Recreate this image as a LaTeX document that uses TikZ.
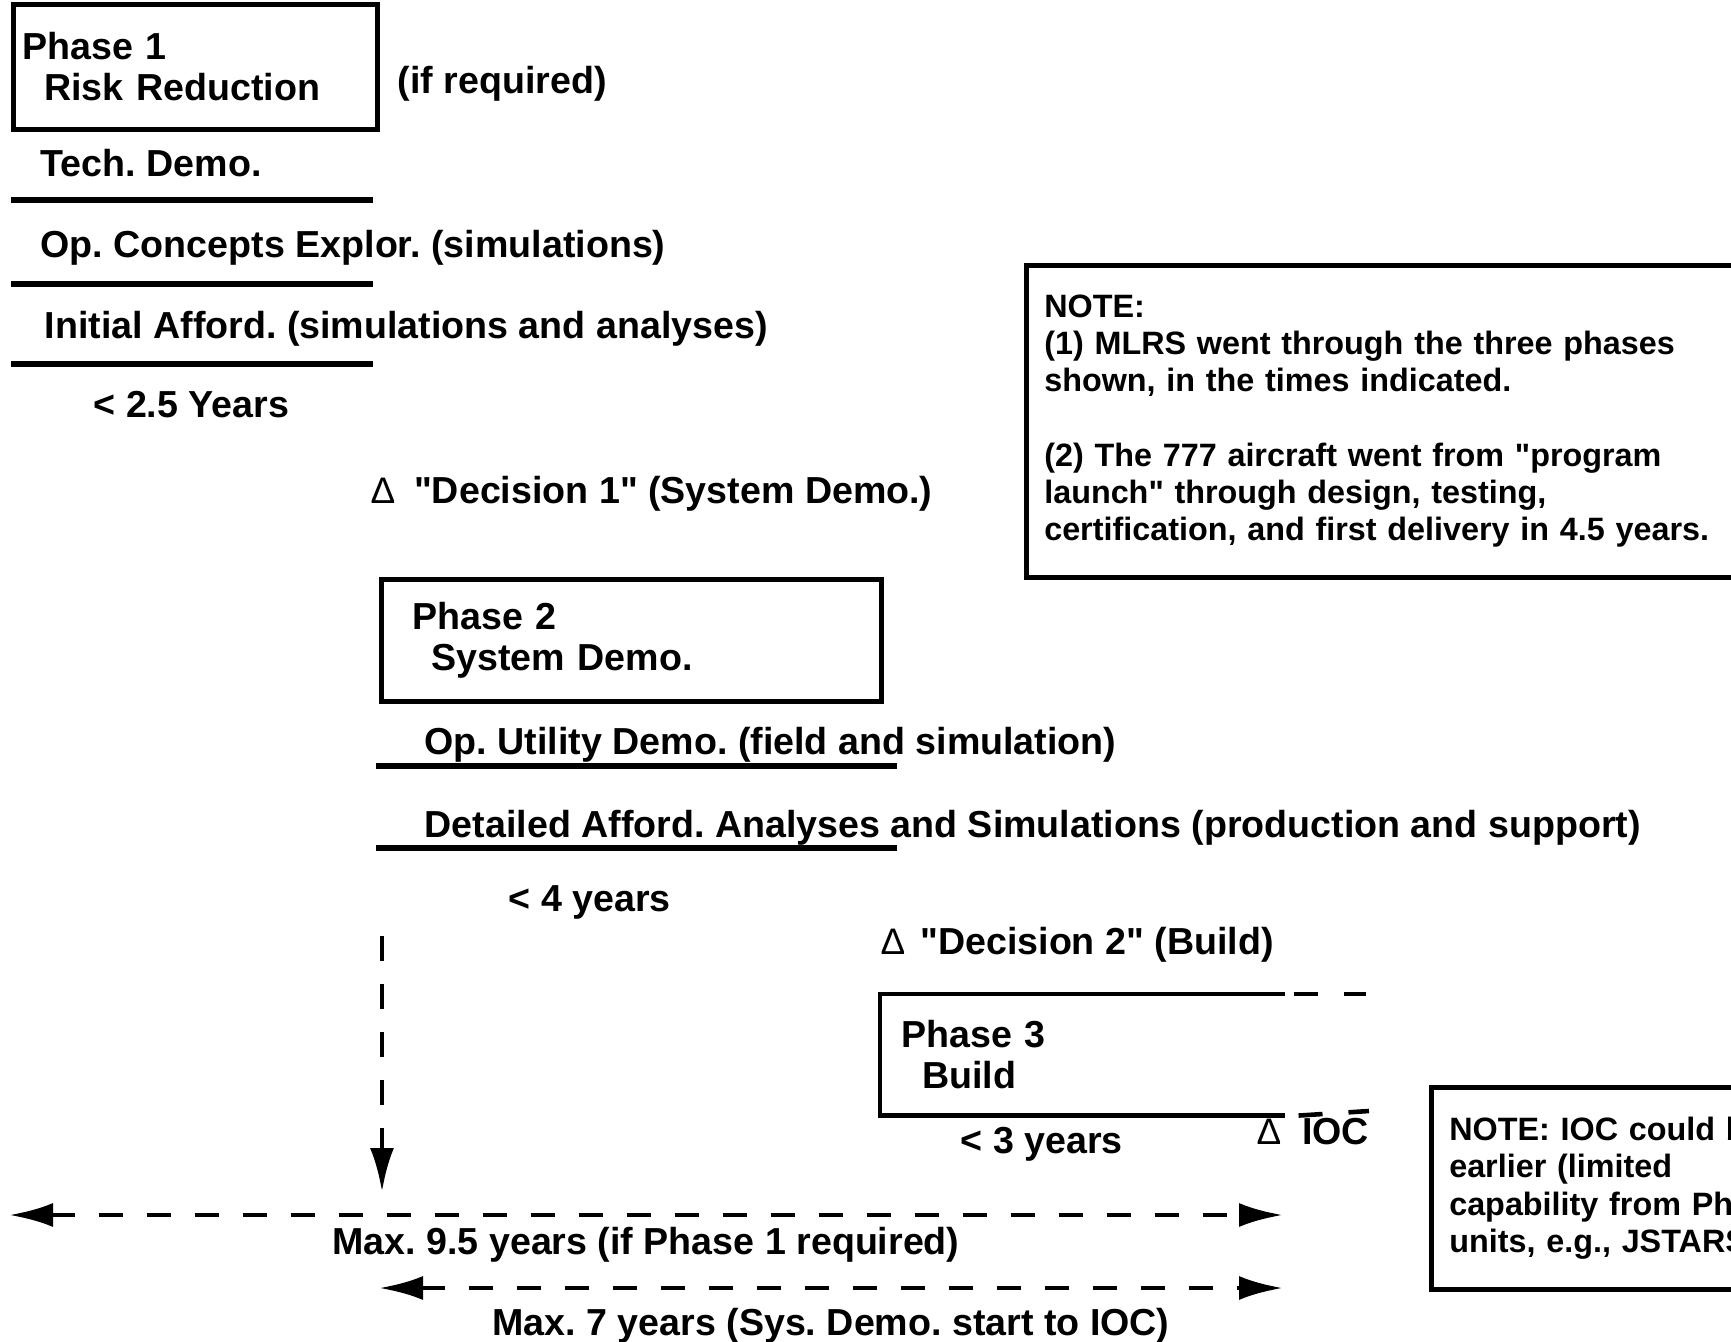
\documentclass[tikz,border=0pt]{standalone}
\usepackage{fontspec}
\setmainfont{Liberation Sans}
\usetikzlibrary{arrows.meta,positioning}
\frenchspacing
\newcommand{\dtri}{{\mdseries\fontsize{10.5}{12}\selectfont Δ}}
\newcommand{\qq}{\textquotedbl}
\newcommand{\phasefont}{\bfseries\fontsize{10.7}{11.7}\selectfont}
\newcommand{\notefont}{\bfseries\fontsize{9.2}{10.6}\selectfont}
\tikzstyle{phase} = [draw, rectangle, line width=1.3pt, anchor=north west, align=left, font=\phasefont]
\tikzstyle{txt} = [anchor=west, inner sep=0pt, text height=0.28cm, text depth=0.08cm]
\tikzstyle{bar} = [line width=1.5pt]
\tikzstyle{note} = [draw, rectangle, line width=1.3pt, anchor=north west, align=left, font=\notefont, inner xsep=0.18cm]
\tikzstyle{span} = [<->, line width=1.4pt, dash pattern=on 0.24cm off 0.24cm]
\tikzstyle{gap} = [line width=1.3pt, dash pattern=on 0.24cm off 0.26cm]
\begin{document}
\begin{tikzpicture}[font=\phasefont, >={Latex[length=0.44cm,width=0.24cm]}]
\useasboundingbox (0,0) rectangle (17.31,-13.42);
% Phase 1
	\node [phase, minimum height=1.25cm, text width=3.46cm, inner xsep=0.09cm] (phase1) at (0.11,-0.02) {Phase 1\\\hspace*{0.22cm}Risk Reduction};
	\node [txt] (ifreq) at (3.97,-0.83) {(if required)};
	\node [txt] (tech) at (0.40,-1.66) {Tech. Demo.};
	\node [txt] (opcon) at (0.40,-2.47) {Op. Concepts Explor. (simulations)};
	\node [txt] (afford1) at (0.44,-3.28) {Initial Afford. (simulations and analyses)};
	\node [txt] (yrs1) at (0.93,-4.07) {< 2.5 Years};
	\draw [bar] (0.11,-2.00) -- (3.73,-2.00);
	\draw [bar] (0.11,-2.84) -- (3.73,-2.84);
	\draw [bar] (0.11,-3.64) -- (3.73,-3.64);
	\node [txt] (dec1) at (3.70,-4.93) {\dtri\hspace{0.5em}\qq Decision 1\qq\ (System Demo.)};
% Phase 2
	\node [phase, minimum height=1.22cm, text width=4.38cm, inner xsep=0.31cm] (phase2) at (3.79,-5.77) {Phase 2\\\hspace*{0.19cm}System Demo.};
	\node [txt] (oput) at (4.24,-7.44) {Op. Utility Demo. (field and simulation)};
	\node [txt] (afford2) at (4.24,-8.27) {Detailed Afford. Analyses and Simulations (production and support)};
	\draw [bar] (3.76,-7.66) -- (8.97,-7.66);
	\draw [bar] (3.76,-8.48) -- (8.97,-8.48);
	\node [txt] (yrs2) at (5.08,-9.01) {< 4 years};
	\node [txt] (dec2) at (8.80,-9.44) {\dtri\hspace{0.4em}\qq Decision 2\qq\ (Build)};
% Phase 3
	\node [phase, draw=none, minimum height=1.17cm, text width=3.62cm, inner xsep=0.19cm] (phase3) at (8.80,-9.94) {Phase 3\\\hspace*{0.21cm}Build};
	\draw [line width=1.3pt] (phase3.north east) -- (phase3.north west) -- (phase3.south west) -- (phase3.south east);
	\coordinate (top3) at (13.66,-9.94);
	\coordinate (bot3) at (13.69,-11.11);
	\draw [gap] ([xshift=0.09cm]phase3.north east) -- (top3);
	\draw [gap] ([xshift=0.14cm]phase3.south east) -- (bot3);
	\node [txt] (yrs3) at (9.60,-11.43) {< 3 years};
	\node [txt] (ioc) at (12.56,-11.34) {\dtri\hspace{0.55em}IOC};
% Notes
	\node [note, minimum height=3.12cm, text width=7.5cm] (note1) at (10.24,-2.63) {NOTE:\\(1) MLRS went through the three phases\\shown, in the times indicated.\\[10.6pt](2) The 777 aircraft went from \qq program\\launch\qq\ through design, testing,\\certification, and first delivery in 4.5 years.};
	\node [note, minimum height=2.02cm, text width=5cm] (note2) at (14.29,-10.85) {NOTE: IOC could be\\earlier (limited\\capability from Phase 2\\units, e.g., JSTARS)};
% Spans
	\coordinate (down1) at (3.82,-9.36);
	\coordinate (down2) at (3.82,-11.92);
	\draw [->, line width=1.4pt, dash pattern=on 0.25cm off 0.23cm] (down1) -- (down2);
	\coordinate (all1) at (0.09,-12.15);
	\coordinate (all2) at (12.83,-12.15);
	\draw [span] (all1) -- node[txt, below=0.09cm] {Max. 9.5 years (if Phase 1 required)} (all2);
	\coordinate (sys1) at (3.79,-12.88);
	\coordinate (sys2) at (12.83,-12.88);
	\draw [span] (sys1) -- node[txt, below=0.17cm] {Max. 7 years (Sys. Demo. start to IOC)} (sys2);
\end{tikzpicture}
\end{document}
